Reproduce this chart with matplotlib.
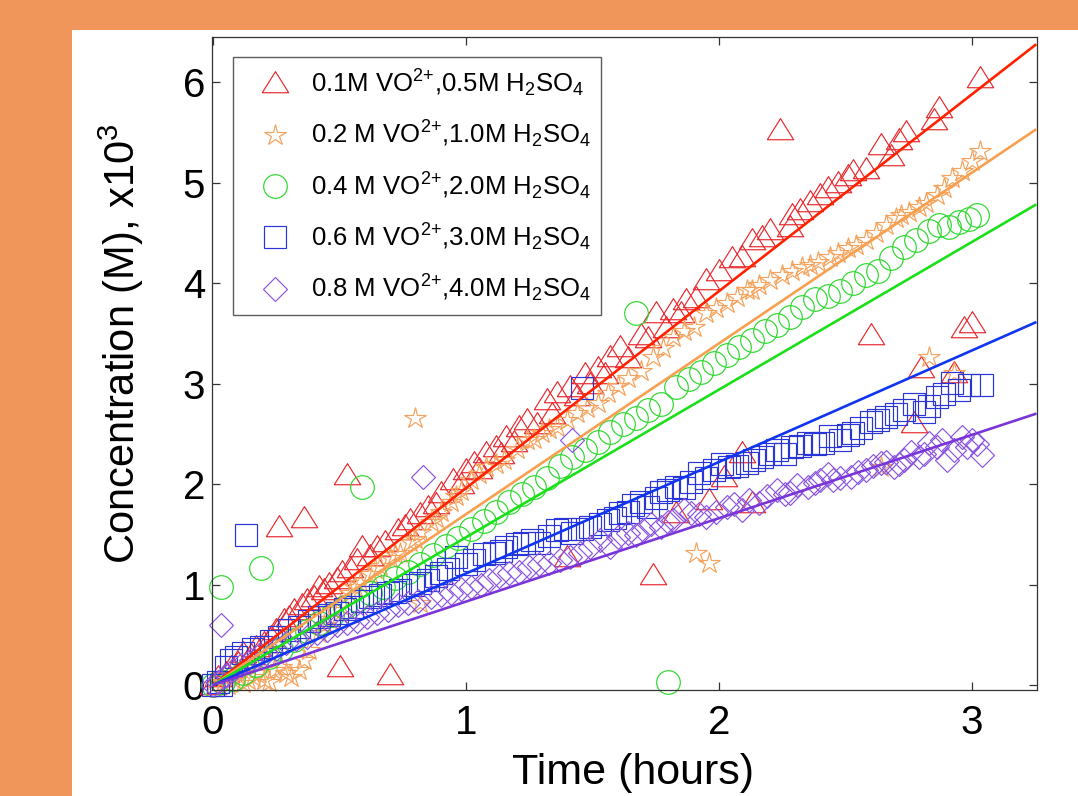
import numpy as np
import matplotlib
matplotlib.use("Agg")
import matplotlib.pyplot as plt
from matplotlib.patches import Rectangle

plt.rcParams['font.family'] = ['Liberation Sans', 'DejaVu Sans']
plt.rcParams['mathtext.fontset'] = 'custom'
plt.rcParams['mathtext.rm'] = 'Liberation Sans'
plt.rcParams['mathtext.it'] = 'Liberation Sans:italic'
plt.rcParams['mathtext.default'] = 'regular'

# ---- data: time (hours), concentration (M x 10^3) ----
red_t = [0.00, 0.02, 0.05, 0.07, 0.10, 0.12, 0.15, 0.17, 0.20, 0.23, 0.25, 0.28, 0.30,
         0.32, 0.35, 0.37, 0.40, 0.42, 0.44, 0.46, 0.49, 0.51, 0.54, 0.57, 0.59, 0.62,
         0.65, 0.68, 0.73, 0.76, 0.78, 0.82, 0.85, 0.88, 0.90, 0.95, 0.98, 1.00, 1.03,
         1.05, 1.08, 1.12, 1.14, 1.16, 1.19, 1.21, 1.24, 1.28, 1.32, 1.34, 1.36, 1.41,
         1.44, 1.47, 1.49, 1.52, 1.55, 1.57, 1.61, 1.64, 1.69, 1.72, 1.75, 1.79, 1.82,
         1.85, 1.87, 1.91, 1.95, 2.00, 2.05, 2.09, 2.13, 2.17, 2.20, 2.28, 2.29, 2.32,
         2.36, 2.40, 2.43, 2.47, 2.51, 2.53, 2.58, 2.64, 2.68, 2.71, 2.74, 2.85, 2.87,
         3.03,
         # scattered points
         0.26, 0.36, 0.53, 0.50, 0.70, 1.40, 1.74, 1.83, 1.96, 2.02, 2.09, 2.13, 2.24,
         2.60, 2.77, 2.80, 2.93, 2.97, 3.00]
red_c = [0.00, 0.08, 0.12, 0.18, 0.22, 0.32, 0.30, 0.38, 0.42, 0.48, 0.55, 0.65, 0.68,
         0.75, 0.80, 0.85, 0.88, 0.98, 0.95, 1.01, 1.05, 1.12, 1.16, 1.24, 1.37, 1.28,
         1.37, 1.42, 1.54, 1.58, 1.64, 1.70, 1.77, 1.80, 1.91, 2.04, 2.00, 2.14, 2.21,
         2.15, 2.31, 2.37, 2.30, 2.47, 2.42, 2.57, 2.64, 2.60, 2.84, 2.70, 2.91, 2.97,
         2.88, 3.10, 3.00, 3.16, 3.10, 3.26, 3.36, 3.25, 3.48, 3.45, 3.70, 3.55, 3.73,
         3.70, 3.83, 3.85, 4.03, 4.12, 4.25, 4.26, 4.43, 4.46, 4.53, 4.56, 4.68, 4.73,
         4.81, 4.88, 4.95, 5.00, 5.07, 5.12, 5.14, 5.37, 5.27, 5.42, 5.50, 5.62, 5.74,
         6.04,
         1.57, 1.66, 2.09, 0.18, 0.10, 1.27, 1.09, 1.71, 1.84, 2.07, 2.31, 1.81, 5.52,
         3.48, 2.61, 3.16, 3.11, 3.55, 3.60]

orange_t = [0.00, 0.04, 0.06, 0.08, 0.10, 0.12, 0.14, 0.16, 0.18, 0.20, 0.22, 0.24, 0.27,
            0.29, 0.31, 0.34, 0.36, 0.38, 0.42, 0.44, 0.46, 0.48, 0.50, 0.54, 0.56, 0.58,
            0.62, 0.64, 0.66, 0.70, 0.72, 0.74, 0.78, 0.80, 0.82, 0.86, 0.88, 0.90, 0.94,
            0.96, 0.98, 1.02, 1.05, 1.08, 1.12, 1.15, 1.20, 1.24, 1.27, 1.30, 1.33, 1.36,
            1.40, 1.44, 1.48, 1.52, 1.56, 1.60, 1.64, 1.69, 1.74, 1.78, 1.82, 1.86, 1.90,
            1.95, 1.99, 2.03, 2.07, 2.11, 2.13, 2.16, 2.20, 2.25, 2.29, 2.33, 2.36, 2.39,
            2.44, 2.47, 2.51, 2.54, 2.58, 2.62, 2.66, 2.70, 2.72, 2.75, 2.79, 2.82, 2.86,
            2.89, 2.92, 2.96, 3.00, 3.03,
            0.80, 0.82, 1.91, 1.96, 2.64, 2.83, 2.93]
orange_c = [0.00, 0.03, 0.00, 0.06, 0.10, 0.02, 0.05, 0.08, 0.12, 0.05, 0.03, 0.15, 0.18,
            0.12, 0.08, 0.15, 0.25, 0.35, 0.52, 0.60, 0.66, 0.75, 0.80, 0.92, 0.98, 1.02,
            1.10, 1.15, 1.18, 1.26, 1.30, 1.31, 1.42, 1.45, 1.52, 1.62, 1.66, 1.72, 1.82,
            1.88, 1.93, 2.04, 2.10, 2.17, 2.20, 2.24, 2.35, 2.44, 2.45, 2.51, 2.55, 2.57,
            2.64, 2.71, 2.76, 2.81, 2.91, 2.98, 3.06, 3.13, 3.26, 3.35, 3.46, 3.52, 3.56,
            3.70, 3.75, 3.80, 3.86, 3.93, 3.93, 3.98, 4.03, 4.08, 4.12, 4.16, 4.18, 4.21,
            4.26, 4.30, 4.35, 4.38, 4.43, 4.50, 4.58, 4.65, 4.68, 4.71, 4.76, 4.80, 4.88,
            4.95, 5.05, 5.12, 5.22, 5.32,
            2.66, 0.82, 1.31, 1.21, 2.17, 3.26, 3.11]

green_t = [0.00, 0.04, 0.08, 0.12, 0.17, 0.22, 0.27, 0.32, 0.37, 0.42, 0.47, 0.52, 0.57,
           0.62, 0.67, 0.72, 0.77, 0.82, 0.87, 0.92, 0.97, 1.02, 1.07, 1.12, 1.17, 1.22,
           1.27, 1.32, 1.37, 1.42, 1.47, 1.52, 1.57, 1.62, 1.67, 1.72, 1.77, 1.83, 1.88,
           1.93, 1.98, 2.03, 2.08, 2.13, 2.18, 2.23, 2.28, 2.33, 2.38, 2.43, 2.48, 2.53,
           2.58, 2.63, 2.68, 2.73, 2.78, 2.83, 2.87, 2.91, 2.95, 2.99, 3.02,
           0.03, 0.19, 0.59, 1.67, 1.80]
green_c = [0.00, 0.03, 0.06, 0.12, 0.20, 0.28, 0.36, 0.45, 0.54, 0.62, 0.70, 0.78, 0.85,
           0.92, 0.98, 1.06, 1.12, 1.20, 1.29, 1.38, 1.46, 1.55, 1.63, 1.72, 1.82, 1.90,
           1.97, 2.06, 2.18, 2.27, 2.34, 2.42, 2.52, 2.60, 2.66, 2.74, 2.80, 2.97, 3.05,
           3.12, 3.20, 3.28, 3.36, 3.43, 3.52, 3.58, 3.66, 3.76, 3.84, 3.87, 3.92, 4.00,
           4.08, 4.12, 4.25, 4.36, 4.43, 4.52, 4.58, 4.56, 4.61, 4.64, 4.68,
           0.98, 1.16, 1.97, 3.70, 0.03]

blue_t = [0.00, 0.02, 0.03, 0.05, 0.07, 0.09, 0.12, 0.16, 0.19, 0.23, 0.26, 0.30, 0.34,
          0.38, 0.42, 0.46, 0.49, 0.52, 0.55, 0.59, 0.62, 0.66, 0.69, 0.72, 0.74, 0.79,
          0.82, 0.85, 0.88, 0.90, 0.93, 0.96, 1.00, 1.03, 1.07, 1.11, 1.14, 1.16, 1.20,
          1.23, 1.26, 1.29, 1.33, 1.36, 1.39, 1.42, 1.46, 1.49, 1.53, 1.56, 1.59, 1.61,
          1.64, 1.66, 1.69, 1.72, 1.75, 1.77, 1.80, 1.83, 1.86, 1.89, 1.92, 1.95, 1.98,
          2.01, 2.04, 2.07, 2.11, 2.14, 2.17, 2.20, 2.23, 2.26, 2.29, 2.32, 2.35, 2.38,
          2.41, 2.44, 2.48, 2.51, 2.53, 2.56, 2.60, 2.63, 2.66, 2.70, 2.73, 2.77, 2.81,
          2.83, 2.86, 2.89, 2.92, 2.95, 2.99, 3.04,
          0.13, 1.46]
blue_c = [0.00, 0.03, 0.00, 0.18, 0.25, 0.28, 0.32, 0.36, 0.38, 0.44, 0.48, 0.55, 0.58,
          0.64, 0.68, 0.70, 0.72, 0.76, 0.78, 0.84, 0.88, 0.90, 0.92, 0.93, 0.95, 1.00,
          1.02, 1.04, 1.08, 1.11, 1.15, 1.27, 1.20, 1.24, 1.30, 1.31, 1.33, 1.37, 1.40,
          1.41, 1.44, 1.41, 1.48, 1.54, 1.55, 1.51, 1.55, 1.57, 1.60, 1.64, 1.66, 1.71,
          1.72, 1.79, 1.82, 1.77, 1.86, 1.92, 1.94, 1.97, 1.96, 2.02, 2.11, 2.06, 2.14,
          2.20, 2.17, 2.18, 2.21, 2.24, 2.27, 2.30, 2.34, 2.30, 2.37, 2.38, 2.41, 2.40,
          2.41, 2.48, 2.44, 2.49, 2.51, 2.56, 2.62, 2.64, 2.67, 2.70, 2.74, 2.80, 2.72,
          2.78, 2.87, 2.90, 3.01, 2.94, 2.99, 2.99,
          1.49, 2.96]

purple_t = [0.00, 0.02, 0.05, 0.08, 0.11, 0.15, 0.18, 0.21, 0.25, 0.29, 0.33, 0.37, 0.41,
            0.45, 0.49, 0.53, 0.57, 0.61, 0.65, 0.69, 0.73, 0.77, 0.81, 0.86, 0.90, 0.94,
            0.98, 1.02, 1.06, 1.09, 1.13, 1.17, 1.21, 1.25, 1.29, 1.33, 1.37, 1.41, 1.45,
            1.49, 1.53, 1.57, 1.60, 1.64, 1.67, 1.70, 1.73, 1.77, 1.80, 1.82, 1.86, 1.89,
            1.92, 1.95, 1.99, 2.03, 2.06, 2.09, 2.12, 2.16, 2.19, 2.23, 2.26, 2.28, 2.31,
            2.35, 2.38, 2.40, 2.43, 2.45, 2.48, 2.52, 2.55, 2.58, 2.61, 2.64, 2.66, 2.69,
            2.71, 2.73, 2.76, 2.79, 2.81, 2.83, 2.86, 2.88, 2.90, 2.93, 2.96, 2.98, 3.00,
            3.02, 3.04,
            0.03, 0.83, 1.42]
purple_c = [0.00, 0.03, 0.10, 0.15, 0.20, 0.25, 0.30, 0.32, 0.36, 0.42, 0.46, 0.48, 0.52,
            0.55, 0.60, 0.62, 0.64, 0.68, 0.72, 0.75, 0.80, 0.82, 0.84, 0.88, 0.90, 0.92,
            0.96, 0.98, 1.00, 1.04, 1.08, 1.11, 1.12, 1.17, 1.20, 1.21, 1.24, 1.27, 1.31,
            1.37, 1.44, 1.37, 1.47, 1.51, 1.49, 1.54, 1.60, 1.57, 1.62, 1.64, 1.74, 1.71,
            1.70, 1.67, 1.72, 1.77, 1.80, 1.74, 1.84, 1.81, 1.88, 1.94, 1.90, 1.91, 1.99,
            1.97, 2.01, 2.04, 2.10, 2.04, 2.06, 2.07, 2.12, 2.14, 2.18, 2.21, 2.22, 2.17,
            2.20, 2.24, 2.32, 2.27, 2.30, 2.41, 2.37, 2.44, 2.24, 2.34, 2.47, 2.37, 2.44,
            2.40, 2.29,
            0.60, 2.07, 2.44]

# linear fits (slope, intercept)
fit_slopes = [1.96, 1.70, 1.47, 1.11, 0.83]
fit_intercepts = [0.0, 0.0, 0.0, 0.0, 0.0]
fit_range = [0.0, 3.25]

labels = [r'0.1M VO$^{2{+}}$,0.5M H$_2$SO$_4$',
          r'0.2 M VO$^{2{+}}$,1.0M H$_2$SO$_4$',
          r'0.4 M VO$^{2{+}}$,2.0M H$_2$SO$_4$',
          r'0.6 M VO$^{2{+}}$,3.0M H$_2$SO$_4$',
          r'0.8 M VO$^{2{+}}$,4.0M H$_2$SO$_4$']

marker_colors = ['#E8292E', '#F5A25C', '#2BD82B', '#2A35D8', '#8B55DD']
line_colors = ['#FF2200', '#F7A050', '#19E019', '#1035F0', '#7A35D8']
# wide, flat triangle like the original
tri = [(-1, -0.7), (1, -0.7), (0, 0.9), (-1, -0.7)]
markers = [tri, '*', 'o', 's', 'D']
msizes = [19, 16, 17, 15.5, 12.5]

series_t = [red_t, orange_t, green_t, blue_t, purple_t]
series_c = [red_c, orange_c, green_c, blue_c, purple_c]

W, H = 1078, 796
fig = plt.figure(figsize=(W / 100, H / 100), dpi=100)
fig.patch.set_facecolor('#F0965A')
fig.add_artist(Rectangle((72 / W, 0), 1 - 72 / W, 1 - 30 / H, transform=fig.transFigure,
                         facecolor='white', edgecolor='none', zorder=-1))

ax = fig.add_axes([212 / W, 1 - 690 / H, (1037 - 212) / W, (690 - 37) / H])
ax.set_facecolor('white')

for i in range(5):
    ax.plot(series_t[i], series_c[i], linestyle='none', marker=markers[i],
            markersize=msizes[i], markerfacecolor='none', markeredgecolor=marker_colors[i],
            markeredgewidth=0.85, label=labels[i], clip_on=False, zorder=2)

xs = np.array(fit_range)
for i in range(5):
    ax.plot(xs, fit_slopes[i] * xs + fit_intercepts[i], color=line_colors[i], lw=1.9, zorder=3)

ax.set_xlim(-0.004, 3.257)
ax.set_ylim(-0.05, 6.45)
ax.set_xticks([0, 1, 2, 3])
ax.set_yticks([0, 1, 2, 3, 4, 5, 6])
ax.tick_params(direction='in', length=6, width=0.9, color='#333333', top=True, right=True,
               labelsize=29)
ax.tick_params(axis='x', pad=10)
ax.tick_params(axis='y', pad=5)
for sp in ax.spines.values():
    sp.set_color('#333333')
    sp.set_linewidth(0.9)

ax.set_xlabel('Time (hours)', fontsize=31)
ax.xaxis.set_label_coords(0.51, -0.096)
ax.set_ylabel(r'Concentration (M), x10$^3$', fontsize=30)
ax.yaxis.set_label_coords(-0.08, 0.53)

leg = ax.legend(loc='upper left', bbox_to_anchor=(21 / 825, 1 - 20 / 653), borderaxespad=0,
                fontsize=18.5, frameon=True, fancybox=False, borderpad=0.4,
                handlelength=2.5, handletextpad=0.12, labelspacing=0.78, numpoints=1)
leg.get_frame().set_edgecolor('#333333')
leg.get_frame().set_linewidth(1.0)

fig.savefig('out.png', dpi=100, facecolor=fig.get_facecolor())
